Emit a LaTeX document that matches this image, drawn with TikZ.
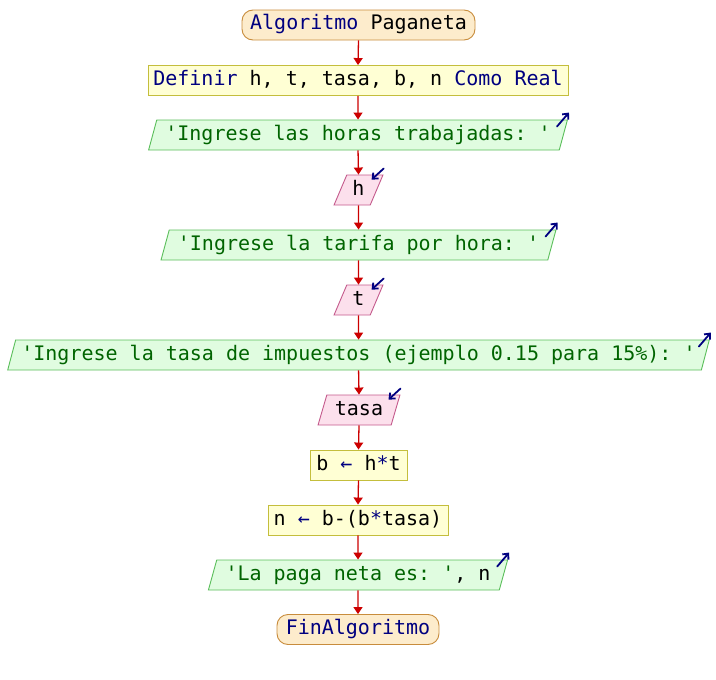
\documentclass[tikz,border=0pt]{standalone}
\usepackage{fontspec}
\setmonofont{DejaVu Sans Mono}
\usetikzlibrary{shapes.geometric,arrows.meta}

\definecolor{termfill}{RGB}{253,236,204}
\definecolor{termline}{RGB}{200,140,60}
\definecolor{procfill}{RGB}{255,255,212}
\definecolor{procline}{RGB}{196,190,60}
\definecolor{outfill}{RGB}{224,252,224}
\definecolor{outline}{RGB}{90,190,90}
\definecolor{infill}{RGB}{252,224,236}
\definecolor{inline}{RGB}{196,90,140}
\definecolor{flowred}{RGB}{204,0,0}
\definecolor{kw}{RGB}{0,0,128}
\definecolor{str}{RGB}{0,100,0}

\newcommand{\kw}[1]{\textcolor{kw}{#1}}
\newcommand{\str}[1]{\textcolor{str}{#1}}

\begin{document}
\begin{tikzpicture}[x=1pt,y=-1pt,
  font=\ttfamily\fontsize{20}{24}\selectfont,
  base/.style={inner sep=0pt, minimum height=30pt, text height=14pt, text depth=4pt, line width=0.9pt},
  terminal/.style={base, rectangle, rounded corners=11pt, draw=termline, fill=termfill},
  procbox/.style={base, rectangle, draw=procline, fill=procfill},
  outbox/.style={base, trapezium, trapezium left angle=66.6, trapezium right angle=113.4,
    trapezium stretches=true, draw=outline, fill=outfill},
  inbox/.style={base, trapezium, trapezium left angle=70, trapezium right angle=110,
    trapezium stretches=true, draw=inline, fill=infill},
  flow/.style={draw=flowred, line width=1.3pt, -{Triangle[length=7pt,width=9pt]}},
  iconarrow/.style={draw=kw, line width=1.8pt, line cap=round, -{Straight Barb[length=4.5pt,width=8pt]}}
]
\useasboundingbox (0,0) rectangle (716,680);

\node[terminal, minimum width=233pt] (start) at (358.5,25) {\kw{Algoritmo} Paganeta};
\node[procbox, minimum width=420pt] (def) at (358,80.5) {\kw{Definir} h, t, tasa, b, n \kw{Como Real}};
\node[outbox, minimum width=420pt] (o1) at (358,135) {\str{'Ingrese las horas trabajadas: '}};
\node[inbox, minimum width=49pt] (ih) at (358.5,190) {h};
\node[outbox, minimum width=397pt] (o2) at (358.5,245) {\str{'Ingrese la tarifa por hora: '}};
\node[inbox, minimum width=49pt] (it) at (358.5,300) {t};
\node[outbox, minimum width=709pt] (o3) at (358.5,355) {\str{'Ingrese la tasa de impuestos (ejemplo 0.15 para 15\%): '}};
\node[inbox, minimum width=82pt] (itasa) at (359,410) {tasa};
\node[procbox, minimum width=97pt] (pb) at (358.5,465) {b \kw{←} h\kw{*}t};
\node[procbox, minimum width=180pt] (pn) at (358,520) {n \kw{←} b-(b\kw{*}tasa)};
\node[outbox, minimum width=300pt] (o4) at (358,575) {\str{'La paga neta es: '}, n};
\node[terminal, minimum width=162pt] (fin) at (358,629.5) {\kw{FinAlgoritmo}};

% flow connectors
\foreach \a/\b in {start/def, def/o1, o1/ih, ih/o2, o2/it, it/o3, o3/itasa, itasa/pb, pb/pn, pn/o4, o4/fin}
  \draw[flow] (\a.south) -- (\b.north);

% output markers (arrow leaving the top right corner)
\foreach \n in {o1,o2,o3,o4}
  \draw[iconarrow] ([shift={(-11,7)}]\n.top right corner) -- ([shift={(1,-7)}]\n.top right corner);

% input markers (arrow entering the top right corner)
\foreach \n in {ih,it,itasa}
  \draw[iconarrow] ([shift={(0,-6)}]\n.top right corner) -- ([shift={(-12,5)}]\n.top right corner);
\end{tikzpicture}
\end{document}
